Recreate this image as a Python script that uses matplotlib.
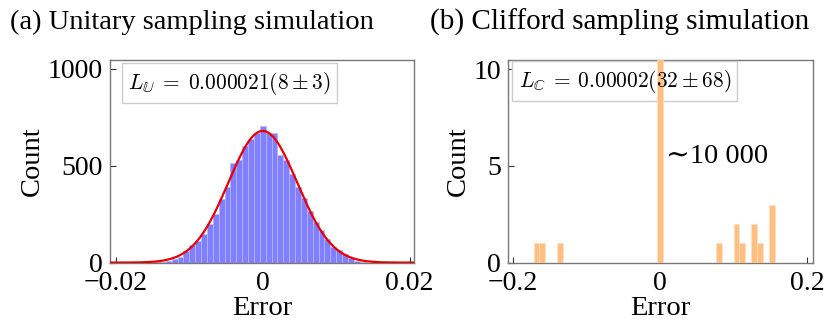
import numpy as np
import matplotlib
matplotlib.use("Agg")
import matplotlib.pyplot as plt

plt.rcParams['font.family'] = ['Liberation Serif', 'DejaVu Serif']
plt.rcParams['mathtext.fontset'] = 'cm'

# ---- Panel (a): unitary sampling errors (bin width 0.0008, centred on k*0.0008)
bin_width_a = 0.0008
bin_index_a = list(range(-18, 18))
counts_a = [2, 5, 10, 18, 28, 59, 92, 114, 149, 197, 252, 330, 390, 516, 530, 601, 640, 667,
            705,
            667, 667, 554, 532, 459, 390, 335, 266, 209, 166, 123, 83, 66, 45, 22, 8, 4]
fit_amp = 680.0
fit_mean = 0.0
fit_sigma = 0.0047

# ---- Panel (b): Clifford sampling errors (bin width 0.008)
bin_width_b = 0.008
bin_index_b = [-21, -20, -17, 0, 10, 13, 14, 16, 17, 19]
counts_b = [1, 1, 1, 10000, 1, 2, 1, 2, 1, 3]

xticks_a = [-0.02, 0.0, 0.02]
xticklabels_a = ['\u22120.02', '0', '0.02']
yticks_a = [0, 500, 1000]
xticks_b = [-0.2, 0.0, 0.2]
xticklabels_b = ['\u22120.2', '0', '0.2']
yticks_b = [0, 5, 10]

fig = plt.figure(figsize=(8.31, 3.23), dpi=100)
ax1 = fig.add_axes([0.1324, 0.187, 0.3658, 0.627])
ax2 = fig.add_axes([0.6113, 0.187, 0.367, 0.627])

spine_col = '#777777'
fs = 20.5
tfs = 20
bfs = 15.4

def style(ax):
    for s in ax.spines.values():
        s.set_color(spine_col)
        s.set_linewidth(1.0)
    ax.tick_params(direction='in', length=4, width=0.8, color='#333333',
                   labelsize=tfs, top=False, right=False)
    ax.tick_params(axis='x', pad=6)
    ax.tick_params(axis='y', pad=5)

# Panel (a)
xa = np.array(bin_index_a) * bin_width_a
ax1.bar(xa, counts_a, width=bin_width_a, color='#7f7fff', edgecolor='#b8b8ff',
        linewidth=0.5, zorder=2)
xx = np.linspace(-0.0208, 0.0206, 600)
ax1.plot(xx, fit_amp * np.exp(-0.5 * ((xx - fit_mean) / fit_sigma) ** 2),
         color='#ee0000', lw=1.6, zorder=3)
ax1.set_xlim(-0.0208, 0.0206)
ax1.set_ylim(0, 1046)
ax1.set_xticks(xticks_a)
ax1.set_xticklabels(xticklabels_a)
ax1.set_yticks(yticks_a)
style(ax1)
ax1.set_xlabel('Error', fontsize=fs, labelpad=0)
ax1.set_ylabel('Count', fontsize=fs, labelpad=2)
ax1.text(0.059, 0.886, r'$L_{\mathbb{U}}\;=\;0.000021(8 \pm 3)$', transform=ax1.transAxes,
         ha='left', va='center', fontsize=bfs, zorder=5,
         bbox=dict(boxstyle='square,pad=0.3', facecolor='white', edgecolor='#cccccc', lw=1))

# Panel (b)
xb = np.array(bin_index_b) * bin_width_b
ax2.bar(xb, counts_b, width=bin_width_b, color='#ffbf80', edgecolor='#ffe0c0',
        linewidth=0.5, zorder=6)
ax2.set_xlim(-0.2068, 0.208)
ax2.set_ylim(0, 10.47)
ax2.set_xticks(xticks_b)
ax2.set_xticklabels(xticklabels_b)
ax2.set_yticks(yticks_b)
style(ax2)
ax2.set_xlabel('Error', fontsize=fs, labelpad=0)
ax2.set_ylabel('Count', fontsize=fs, labelpad=2)
label_b = r'$L_{\mathbb{C}}\:=\:0.00002(32 \pm 68)$'
# box behind the bar (invisible glyphs), text on top of the bar
ax2.text(0.035, 0.896, label_b, transform=ax2.transAxes, color='none',
         ha='left', va='center', fontsize=bfs, zorder=5,
         bbox=dict(boxstyle='square,pad=0.3', facecolor='white', edgecolor='#cccccc', lw=1))
ax2.text(0.035, 0.896, label_b, transform=ax2.transAxes,
         ha='left', va='center', fontsize=bfs, zorder=7)
ax2.text(0.008, 5.5, '\u223c10 000', fontsize=fs, ha='left', va='center',
         family=['Liberation Serif', 'DejaVu Serif'])

fig.text(0.012, 0.932, '(a) Unitary sampling simulation', fontsize=fs, ha='left', va='center')
fig.text(0.518, 0.932, '(b) Clifford sampling simulation', fontsize=21, ha='left', va='center')

fig.savefig('out.png', dpi=100)
